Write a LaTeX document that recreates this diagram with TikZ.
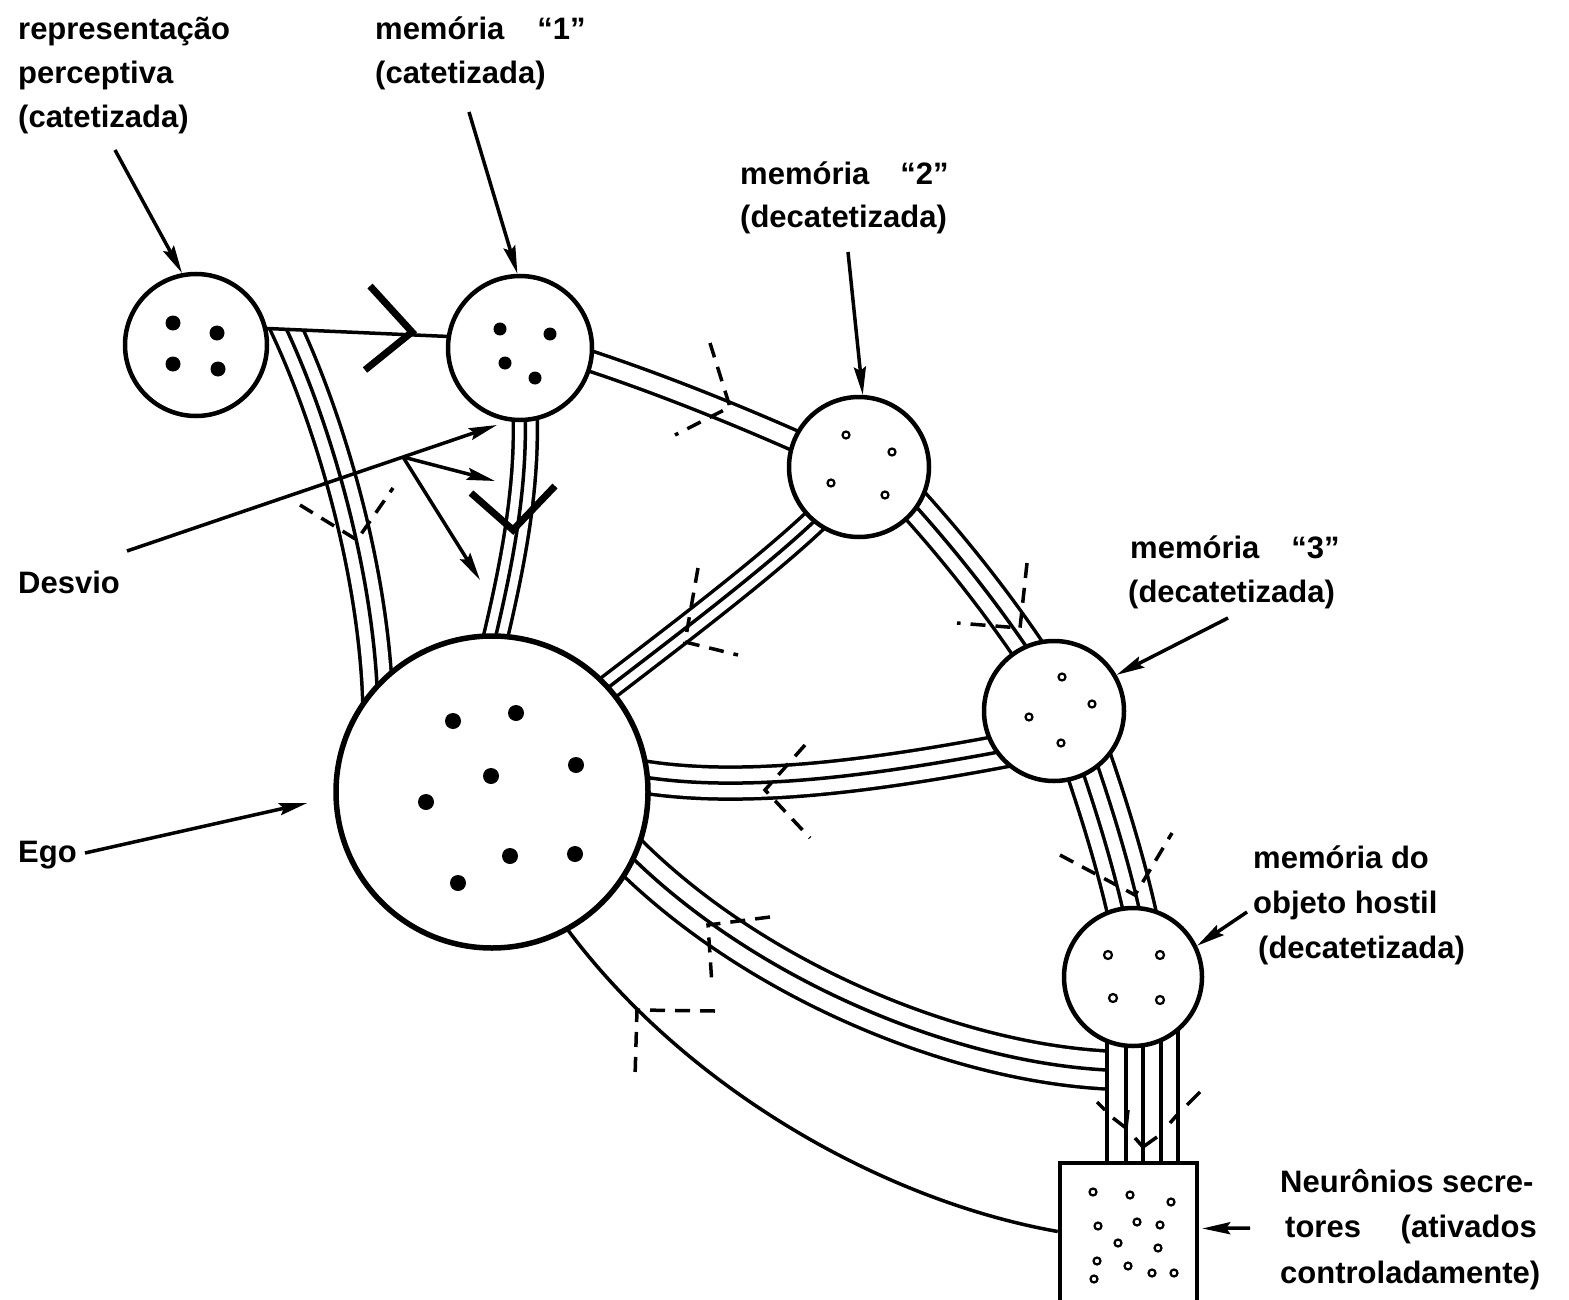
\documentclass[tikz,border=0pt]{standalone}
\usepackage{fontspec}
\setmainfont{Liberation Sans}
\usetikzlibrary{calc,arrows.meta}
\pgfdeclarelayer{bgfill}
\pgfdeclarelayer{bg}
\pgfsetlayers{bgfill,bg,main}
\tikzset{
  circ/.style={circle, draw, fill=white, line width=4.5pt, inner sep=0pt, minimum size=#1},
  b2/.style 2 args={draw, line width=#1, postaction={draw=white, line width=#2}},
  b3/.style 2 args={draw, line width=#1, postaction={draw=white, line width=#2}, postaction={draw=black, line width=3.5pt}},
  b4/.style={draw, line width=51.5pt, postaction={draw=white, line width=44.5pt}, postaction={draw=black, line width=19.5pt}, postaction={draw=white, line width=12.5pt}},
  wire/.style={line width=3.5pt},
  lab/.style={anchor=base west, inner sep=0pt, font=\fontsize{31}{40}\selectfont\bfseries},
  labarrow/.style={line width=3.5pt, -{Stealth[length=28pt,width=12pt,inset=4pt]}},
  vmark/.style={line width=7pt, line join=miter},
  dmark/.style={line width=3.5pt, dash pattern=on 15pt off 10pt},
  smalldot/.style={draw, line width=2.2pt, fill=white},
}
\begin{document}
\begin{tikzpicture}[x=1pt, y=-1pt]
\useasboundingbox (0,0) rectangle (1569,1300);
\begin{pgfonlayer}{bgfill}
  \fill[white] (0,0) rectangle (1569,1300);
\end{pgfonlayer}

% nodes
\node[circ=142pt] (P) at (196,345) {};
\node[circ=144pt] (M1) at (520,348) {};
\node[circ=140pt] (M2) at (859,467) {};
\node[circ=140pt] (M3) at (1054,711) {};
\node[circ=138pt] (MH) at (1133,977) {};
\node[circ=312pt, line width=5.5pt] (E) at (492,792) {};
\node[draw, fill=white, line width=4.5pt, inner sep=0pt, minimum width=137pt, minimum height=147pt] (Box) at (1128.5,1236.5) {};

% connectors under the nodes
\begin{pgfonlayer}{bg}
  \begin{scope}
    \clip (0,329) rectangle (1569,1300);
    \draw[b3={33.5pt}{26.5pt}] ($(P)+(76,-45)$) .. controls (325,400) and (380,580) .. ($(E)+(-114,-62)$);
  \end{scope}
  \draw[b3={27.5pt}{20.5pt}] ($(M1)+(5,62)$) .. controls (528,490) and (512,570) .. ($(E)+(-2,-132)$);
  \draw[b2={23.5pt}{16.5pt}] ($(M1)+(55,8)$) .. controls (650,380) and (730,412) .. ($(M2)+(-59,-24)$);
  \draw[b3={27.5pt}{20.5pt}] ($(M2)+(-35,45)$) .. controls (770,565) and (670,640) .. ($(E)+(100,-92)$);
  \draw[b3={35.5pt}{28.5pt}] ($(M2)+(42,23)$) .. controls (950,543) and (997,602) .. ($(M3)+(-16,-47)$);
  \draw[b3={35.5pt}{28.5pt}] ($(E)+(140,-17)$) .. controls (740,795) and (880,775) .. ($(M3)+(-29,36)$);
  \draw[b3={41.5pt}{34.5pt}] ($(E)+(120,45)$) .. controls (740,975) and (950,1062) .. ($(MH)+(-26,93)$);
  \draw[b4] ($(M3)+(28,34)$) .. controls (1103,805) and (1124,872) .. ($(MH)+(4,-40)$);
  \foreach \dx in {-26,-7,10,28,45}
    \draw[wire] ([xshift=\dx pt]MH.center) -- ([xshift=\dx pt]MH.center |- Box.north);
  \draw[wire] ($(P)+(60,-17)$) -- ($(M1)+(-60,-11)$);
  \draw[wire] ($(E)+(70,130)$) .. controls (680,1085) and (880,1200) .. ($(Box.west)+(0,-5)$);
\end{pgfonlayer}

% dots
\foreach \u/\v in {-23/-22,21/-12,-23/19,22/24}
  \fill ($(P)+(\u,\v)$) circle[radius=7.5pt];
\foreach \u/\v in {-20/-19,30/-14,-15/15,15/30}
  \fill ($(M1)+(\u,\v)$) circle[radius=6.5pt];
\foreach \u/\v in {-13/-32,33/-15,-28/16,26/28}
  \draw[smalldot] ($(M2)+(\u,\v)$) circle[radius=3.5pt];
\foreach \u/\v in {8/-34,38/-7,-25/6,7/32}
  \draw[smalldot] ($(M3)+(\u,\v)$) circle[radius=3.5pt];
\foreach \u/\v in {-25/-22,27/-22,-20/21,27/23}
  \draw[smalldot] ($(MH)+(\u,\v)$) circle[radius=4pt];
\foreach \u/\v in {-39/-71,24/-79,84/-27,-1/-16,-66/10,18/64,83/62,-34/91}
  \fill ($(E)+(\u,\v)$) circle[radius=8pt];
\foreach \u/\v in {1093/1192,1130/1195,1171/1202,1098/1226,1137/1222,1160/1225,1118/1243,1158/1248,1097/1261,1128/1266,1152/1273,1174/1273,1094/1279}
  \draw[smalldot] (\u,\v) circle[radius=3.5pt];

% labels
\node[lab] (t1a) at (18,40) {representação};
\node[lab] (t1b) at (18,84) {perceptiva};
\node[lab] (t1c) at (18,128) {(catetizada)};
\node[lab] (t2a) at (375,40) {memória\hspace{33pt}“1”};
\node[lab] (t2b) at (375,84) {(catetizada)};
\node[lab] (t3a) at (740,185) {memória\hspace{31pt}“2”};
\node[lab] (t3b) at (740,228) {(decatetizada)};
\node[lab] (t4a) at (1130,558) {memória\hspace{32pt}“3”};
\node[lab] (t4b) at (1128,602) {(decatetizada)};
\node[lab] (t5a) at (1253,868) {memória do};
\node[lab] (t5b) at (1253,913) {objeto hostil};
\node[lab] (t5c) at (1258,958) {(decatetizada)};
\node[lab] (t6a) at (1280,1192) {Neurônios secre-};
\node[lab] (t6b) at (1285,1237) {tores};
\node[lab, anchor=base east] (t6c) at (1537,1237) {(ativados};
\node[lab] (t6d) at (1280,1283) {controladamente)};
\node[lab] (t7) at (18,593) {Desvio};
\node[lab] (t8) at (18,862) {Ego};

% label arrows
\coordinate (a1) at (115,150);
\coordinate (a2) at (469,112);
\coordinate (a3) at (848,252);
\coordinate (a4) at (1228,618);
\coordinate (a5) at (1247,912);
\coordinate (a6) at (1250,1228);
\coordinate (a7) at (85,853);
\draw[labarrow] (a1) -- (P.101);
\draw[labarrow] (a2) -- (M1.92);
\draw[labarrow] (a3) -- (M2.87);
\draw[labarrow] (a4) -- (M3.30);
\draw[labarrow] (a5) -- (MH.26);
\draw[labarrow] (a6) -- ($(Box.east)+(3,-8)$);
\draw[labarrow] (a7) -- ($(E.west)+(-26,11)$);

% Desvio
\coordinate (dvA) at (127,551);
\coordinate (dvB) at (497,425);
\coordinate (dvM) at ($(dvA)!0.746!(dvB)$);
\coordinate (dvT1) at (495,481);
\coordinate (dvT2) at (480,580);
\draw[labarrow] (dvA) -- (dvB);
\draw[labarrow] (dvM) -- (dvT1);
\draw[labarrow] (dvM) -- (dvT2);

% big V marks
\draw[vmark] (370,286) -- (412,332) -- (365,370);
\draw[vmark] (471,493) -- (513,530) -- (555,486);

% dashed marks
\draw[dmark] (300,505) -- (357,540) -- (393,488);
\draw[dmark] (710,343) -- (730,407) -- (675,435);
\draw[dmark] (698,568) -- (685,642) -- (738,655);
\draw[dmark] (1027,563) -- (1020,628) -- (957,623);
\draw[dmark] (805,745) -- (765,790) -- (810,838);
\draw[dmark] (1060,855) -- (1135,895) -- (1172,833);
\draw[dmark] (770,917) -- (708,925) -- (712,985);
\draw[dmark] (715,1011) -- (637,1010) -- (635,1077);
\draw[wire] (1097,1102) -- (1105,1110);
\draw[wire] (1113,1118) -- (1126,1128) -- (1128,1110);
\draw[wire] (1135,1138) -- (1143,1147) -- (1157,1137);
\draw[wire] (1170,1123) -- (1177,1115);
\draw[wire] (1187,1105) -- (1200,1092);
\end{tikzpicture}
\end{document}
